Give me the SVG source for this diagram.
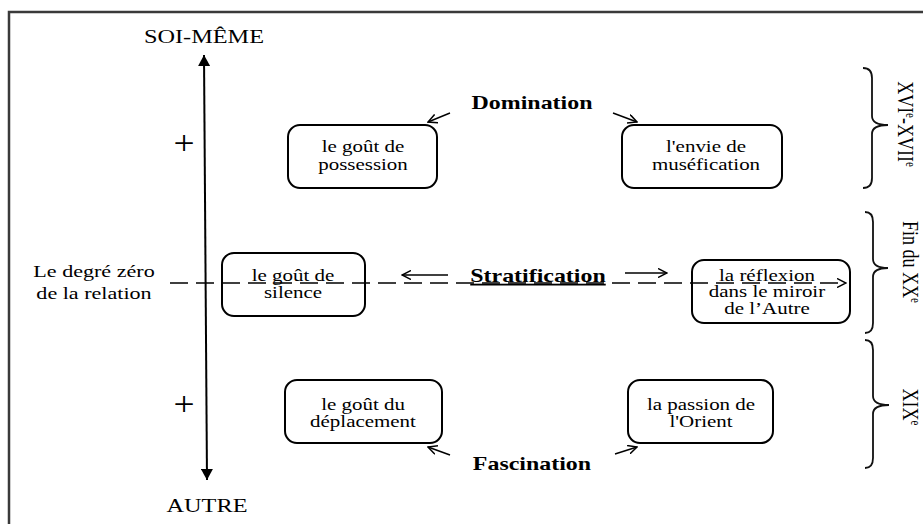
<svg xmlns="http://www.w3.org/2000/svg" width="923" height="524" viewBox="0 0 923 524">
<defs>
<style>
.frame{fill:none;stroke:#3a3a3a;stroke-width:2.5}
.box{fill:none;stroke:#000;stroke-width:2}
.ln{fill:none;stroke:#000;stroke-width:1.4}
.axis{fill:none;stroke:#000;stroke-width:2}
.brace{fill:none;stroke:#111;stroke-width:1.8}
.t{font-family:"Liberation Serif","Times New Roman",serif;font-size:16.5px;fill:#000;text-anchor:middle}
.l{font-size:18px}
.b{font-size:18px;font-weight:bold}
.s{font-size:17px}
.p{font-size:34px}
</style>
<marker id="open" viewBox="0 0 10 10" refX="9" refY="5" markerWidth="10" markerHeight="10" markerUnits="userSpaceOnUse" orient="auto">
<path d="M0,0.5 L9,5 L0,9.5" fill="none" stroke="#000" stroke-width="1.5"/>
</marker>
<marker id="solid" viewBox="0 0 12 12" refX="11" refY="6" markerWidth="12" markerHeight="12" markerUnits="userSpaceOnUse" orient="auto-start-reverse">
<path d="M0,0 L11,6 L0,12 z" fill="#000"/>
</marker>
</defs>
<rect width="923" height="524" fill="#fff"/>
<path class="frame" d="M9,524 L9,12 L923,12"/>

<g id="axis">
<line class="axis" x1="204" y1="55" x2="207" y2="480" marker-start="url(#solid)" marker-end="url(#solid)"/>
<text class="t l" transform="translate(204,43) scale(1.35,1)">SOI-MÊME</text>
<text class="t l" transform="translate(207,512) scale(1.35,1)">AUTRE</text>
<text class="t p" transform="translate(184,154) scale(1.1,1)">+</text>
<text class="t p" transform="translate(184,415) scale(1.1,1)">+</text>
</g>

<g id="degre-zero">
<text class="t s" transform="translate(94,277) scale(1.3,1)">Le degré zéro</text>
<text class="t s" transform="translate(94,299) scale(1.3,1)">de la relation</text>
</g>

<g id="connectors">
<line class="ln" x1="450" y1="113" x2="428" y2="122" marker-end="url(#open)"/>
<line class="ln" x1="613" y1="113" x2="637" y2="122" marker-end="url(#open)"/>
<line class="ln" x1="448" y1="275" x2="402" y2="275" marker-end="url(#open)"/>
<line class="ln" x1="625" y1="273" x2="667" y2="273" marker-end="url(#open)"/>
<line class="ln" x1="450" y1="455" x2="428" y2="447" marker-end="url(#open)"/>
<line class="ln" x1="615" y1="454" x2="637" y2="447" marker-end="url(#open)"/>
<line class="ln" x1="170" y1="283" x2="846" y2="283" stroke-dasharray="18 8" stroke-width="1.6" marker-end="url(#open)"/>
</g>

<g id="domination">
<text class="t b" transform="translate(532,109) scale(1.33,1)">Domination</text>
</g>
<g id="stratification">
<text class="t b" text-decoration="underline" transform="translate(538,282) scale(1.33,1)">Stratification</text>
</g>
<g id="fascination">
<text class="t b" transform="translate(532,470) scale(1.33,1)">Fascination</text>
</g>

<g id="gout-possession">
<rect class="box" x="288" y="125" width="149" height="63" rx="12"/>
<text class="t" transform="translate(363,152) scale(1.27,1)">le goût de</text>
<text class="t" transform="translate(363,170) scale(1.27,1)">possession</text>
</g>

<g id="envie-musefication">
<rect class="box" x="622" y="125" width="160" height="63" rx="12"/>
<text class="t" transform="translate(706,152) scale(1.27,1)">l'envie de</text>
<text class="t" transform="translate(706,170) scale(1.27,1)">muséfication</text>
</g>

<g id="gout-silence">
<rect class="box" x="222" y="253" width="143" height="63" rx="12"/>
<text class="t" transform="translate(293,281) scale(1.27,1)">le goût de</text>
<text class="t" transform="translate(293,298) scale(1.27,1)">silence</text>
</g>

<g id="reflexion-miroir">
<rect class="box" x="692" y="260" width="158" height="63" rx="12"/>
<text class="t" transform="translate(767,281) scale(1.27,1)">la réflexion</text>
<text class="t" transform="translate(767,297) scale(1.27,1)">dans le miroir</text>
<text class="t" transform="translate(767,314) scale(1.27,1)">de l’Autre</text>
</g>

<g id="gout-deplacement">
<rect class="box" x="285" y="380" width="157" height="63" rx="12"/>
<text class="t" transform="translate(363,410) scale(1.27,1)">le goût du</text>
<text class="t" transform="translate(363,427) scale(1.27,1)">déplacement</text>
</g>

<g id="passion-orient">
<rect class="box" x="628" y="380" width="145" height="63" rx="12"/>
<text class="t" transform="translate(701,410) scale(1.27,1)">la passion de</text>
<text class="t" transform="translate(701,427) scale(1.27,1)">l'Orient</text>
</g>

<g id="periode-xvi-xvii">
<path class="brace" d="M863,68 Q872,68 872,78 L872,116 Q872,125 888,125 Q872,125 872,134 L872,178 Q872,188 863,188"/>
<text class="t l" transform="translate(898,124) rotate(90) scale(1,1.25)">XVI<tspan font-size="11" baseline-shift="super">e</tspan>-XVII<tspan font-size="11" baseline-shift="super">e</tspan></text>
</g>

<g id="periode-fin-xx">
<path class="brace" d="M865,212 Q873,212 873,222 L873,259 Q873,268 888,268 Q873,268 873,277 L873,323 Q873,333 865,333"/>
<text class="t l" transform="translate(903,262) rotate(90) scale(1,1.25)">Fin du XX<tspan font-size="11" baseline-shift="super">e</tspan></text>
</g>

<g id="periode-xix">
<path class="brace" d="M865,340 Q873,340 873,350 L873,396 Q873,405 889,405 Q873,405 873,414 L873,458 Q873,468 865,468"/>
<text class="t l" transform="translate(903,407) rotate(90) scale(1,1.25)">XIX<tspan font-size="11" baseline-shift="super">e</tspan></text>
</g>
</svg>
